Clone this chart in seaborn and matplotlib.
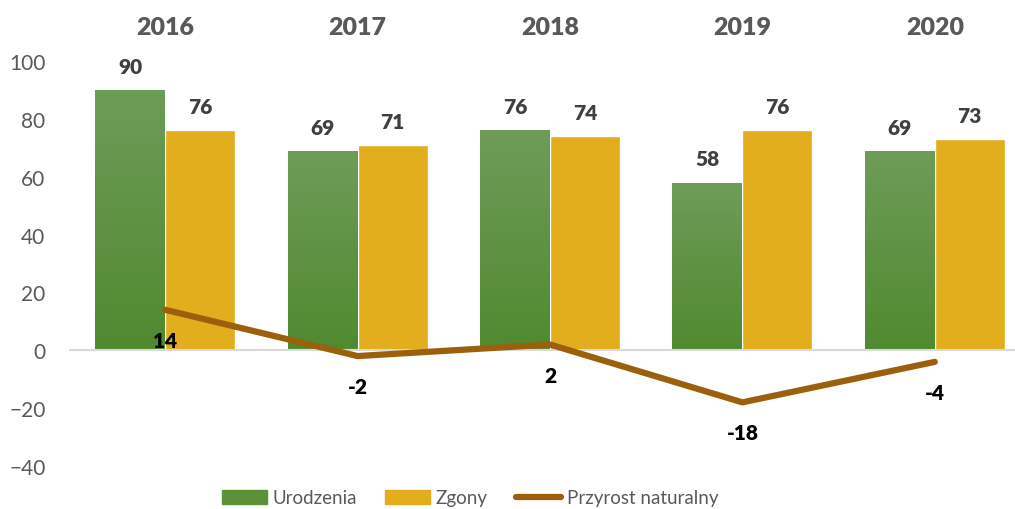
import numpy as np
import pandas as pd
import matplotlib.pyplot as plt
import seaborn as sns
from matplotlib.lines import Line2D
from matplotlib.patches import Patch

years = ['2016', '2017', '2018', '2019', '2020']
urodzenia = [90, 69, 76, 58, 69]
zgony = [76, 71, 74, 76, 73]
przyrost = [14, -2, 2, -18, -4]

df = pd.DataFrame({
    'rok': years * 2,
    'wartosc': urodzenia + zgony,
    'seria': ['Urodzenia'] * 5 + ['Zgony'] * 5,
})

sns.set_style('white')
plt.rcParams['font.family'] = ['Lato', 'DejaVu Sans']

green = '#5b9238'
gold = '#e2ae1e'
brown = '#9c5f0c'

fig = plt.figure(figsize=(10.15, 5.1), dpi=100)
ax = fig.add_axes([69 / 1015, 1 - 467 / 510, 962 / 1015, 405 / 510])

sns.barplot(data=df, x='rok', y='wartosc', hue='seria', order=years,
            palette=[green, gold], width=0.727, saturation=1, ax=ax, legend=False)

# gradient on green bars (lighter top)
grad = np.linspace(0, 1, 256).reshape(-1, 1)
cmap = plt.matplotlib.colors.LinearSegmentedColormap.from_list('g', ['#508a2e', '#6e9c59'])
for p in ax.patches[:5]:
    x0, y0 = p.get_x(), p.get_y()
    w, h = p.get_width(), p.get_height()
    im = ax.imshow(grad, cmap=cmap, origin='lower', aspect='auto',
                   extent=(x0, x0 + w, y0, y0 + h), zorder=p.get_zorder() + 0.1)
    im.set_clip_path(p)

ax.axhline(0, color='#d9d9d9', lw=1.5, zorder=1)

sns.pointplot(x=years, y=przyrost, order=years, color=brown, markers='',
              linewidth=4.5, ax=ax)
for l in ax.lines:
    l.set_solid_capstyle('round')
    l.set_zorder(5)

# labels
for p, v in zip(ax.patches[:10], urodzenia + zgony):
    ax.annotate(str(v), (p.get_x() + p.get_width() / 2, v), xytext=(0, 17),
                textcoords='offset points', ha='center', va='center',
                fontsize=15, fontweight='heavy', color='#404040')
for i, v in enumerate(przyrost):
    ax.annotate(str(v), (i, v), xytext=(0, -22), textcoords='offset points',
                ha='center', va='center', fontsize=15, fontweight='heavy', color='black')

for i, y in enumerate(years):
    ax.text(i, 1.085, y, transform=ax.get_xaxis_transform(), ha='center', va='center',
            fontsize=18, fontweight='heavy', color='#595959')

ax.set_ylim(-40, 100)
ax.set_xlim(-0.5, 4.5)
ax.set_yticks(range(-40, 101, 20))
ax.tick_params(axis='y', labelsize=15, colors='#595959', length=0, pad=17)
ax.set_xticks([])
ax.set_xlabel('')
ax.set_ylabel('')
sns.despine(ax=ax, left=True, bottom=True)

handles = [Patch(color='#5b9238'), Patch(color=gold),
           Line2D([0], [0], color=brown, lw=4.5, solid_capstyle='round')]
fig.legend(handles, ['Urodzenia', 'Zgony', 'Przyrost naturalny'], loc='center',
           bbox_to_anchor=(470 / 1015, 1 - 499 / 510), ncol=3, frameon=False,
           fontsize=13.5, labelcolor='#595959', handlelength=2.4, handleheight=0.75,
           columnspacing=1.5, handletextpad=0.3)

fig.savefig('out.png', dpi=100)
